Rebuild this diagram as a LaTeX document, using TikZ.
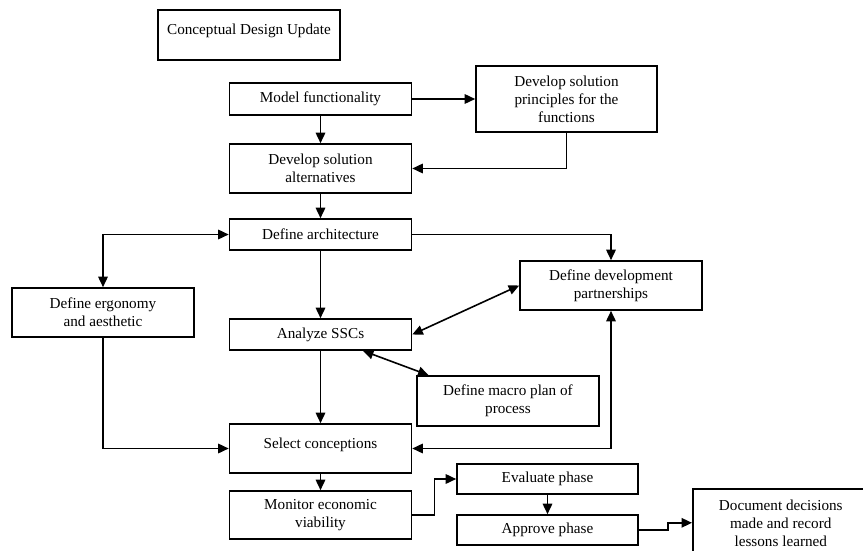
\documentclass[tikz,border=0pt]{standalone}
\usepackage{fontspec}
\setmainfont{Liberation Serif}
\usetikzlibrary{arrows.meta,calc}
\tikzset{
	stage/.style={draw, line width=1.6pt, minimum width=182pt, align=center, inner sep=2pt, font=\fontsize{15.2}{18}\selectfont},
	flow/.style={line width=1.6pt, -{Triangle[length=10.5pt,width=9.5pt]}},
	twoway/.style={line width=1.6pt, {Triangle[length=10.5pt,width=9.5pt]}-{Triangle[length=10.5pt,width=9.5pt]}}
}

\begin{document}
\begin{tikzpicture}[x=1pt, y=-1pt]
				\useasboundingbox (0, 0) rectangle (863, 551);
				\clip (0, 0) rectangle (863, 551);
				
				\node[stage, minimum height=50pt] (cdu) at (249, 35) {Conceptual Design Update\\[-7pt] \mbox{}};
				\node[stage, minimum height=32pt] (modfun) at (320.5, 99) {Model functionality};
				\node[stage, minimum width=181pt, minimum height=66pt] (princ) at (566.5, 99) {Develop solution\\principles for the\\functions};
				\node[stage, minimum height=49pt] (altern) at (320.5, 168.5) {Develop solution\\alternatives};
				\node[stage, minimum height=31pt] (arch) at (320.5, 234.5) {Define architecture};
				\node[stage, minimum height=49pt] (ergo) at (103, 312.5) {Define ergonomy\\and aesthetic};
				\node[stage, minimum height=49pt] (partner) at (611, 285.5) {Define development\\partnerships};
				\node[stage, minimum height=31pt] (ssc) at (320.5, 334.5) {Analyze SSCs};
				\node[stage, minimum height=50pt] (macro) at (508, 401) {Define macro plan of\\process};
				\node[stage, minimum height=49pt] (select) at (320.5, 448.5) {Select conceptions\\[-7pt] \mbox{}};
				\node[stage, minimum height=48pt] (monitor) at (320.5, 515) {Monitor economic\\viability};
				\node[stage, minimum width=181pt, minimum height=30pt] (eval) at (547.5, 479) {Evaluate phase};
				\node[stage, minimum width=181pt, minimum height=30pt] (approve) at (547.5, 530) {Approve phase};
				\node[stage, anchor=north west, minimum width=176pt, minimum height=68pt] (doc) at (692, 488) {Document decisions\\made and record\\lessons learned};
				
				\draw[flow] (modfun.east) -- (princ.west);
				\draw[flow] (modfun) -- (altern);
				\draw[flow] (princ.south) |- (altern.east);
				\draw[flow] (altern) -- (arch);
				\draw[flow] (arch.east) -| (partner.north);
				\draw[twoway] (ergo.north) |- (arch.west);
				\draw[flow] (arch) -- (ssc);
				\draw[twoway] (ssc.east) -- (partner.west);
				\draw[twoway] (ssc.-21) -- (macro.162);
				\draw[flow] (ssc) -- (select);
				\draw[flow] (ergo.south) |- (select.west);
				\draw[twoway] (select.east) -| (partner.south);
				\draw[flow] (select) -- (monitor);
				\draw[flow] (monitor.east) -- ++(22, 0) |- (eval.west);
				\draw[flow] (eval) -- (approve);
				\draw[flow] (approve.east) -- ++(29, 0) |- (doc.west);
			\end{tikzpicture}
\end{document}
